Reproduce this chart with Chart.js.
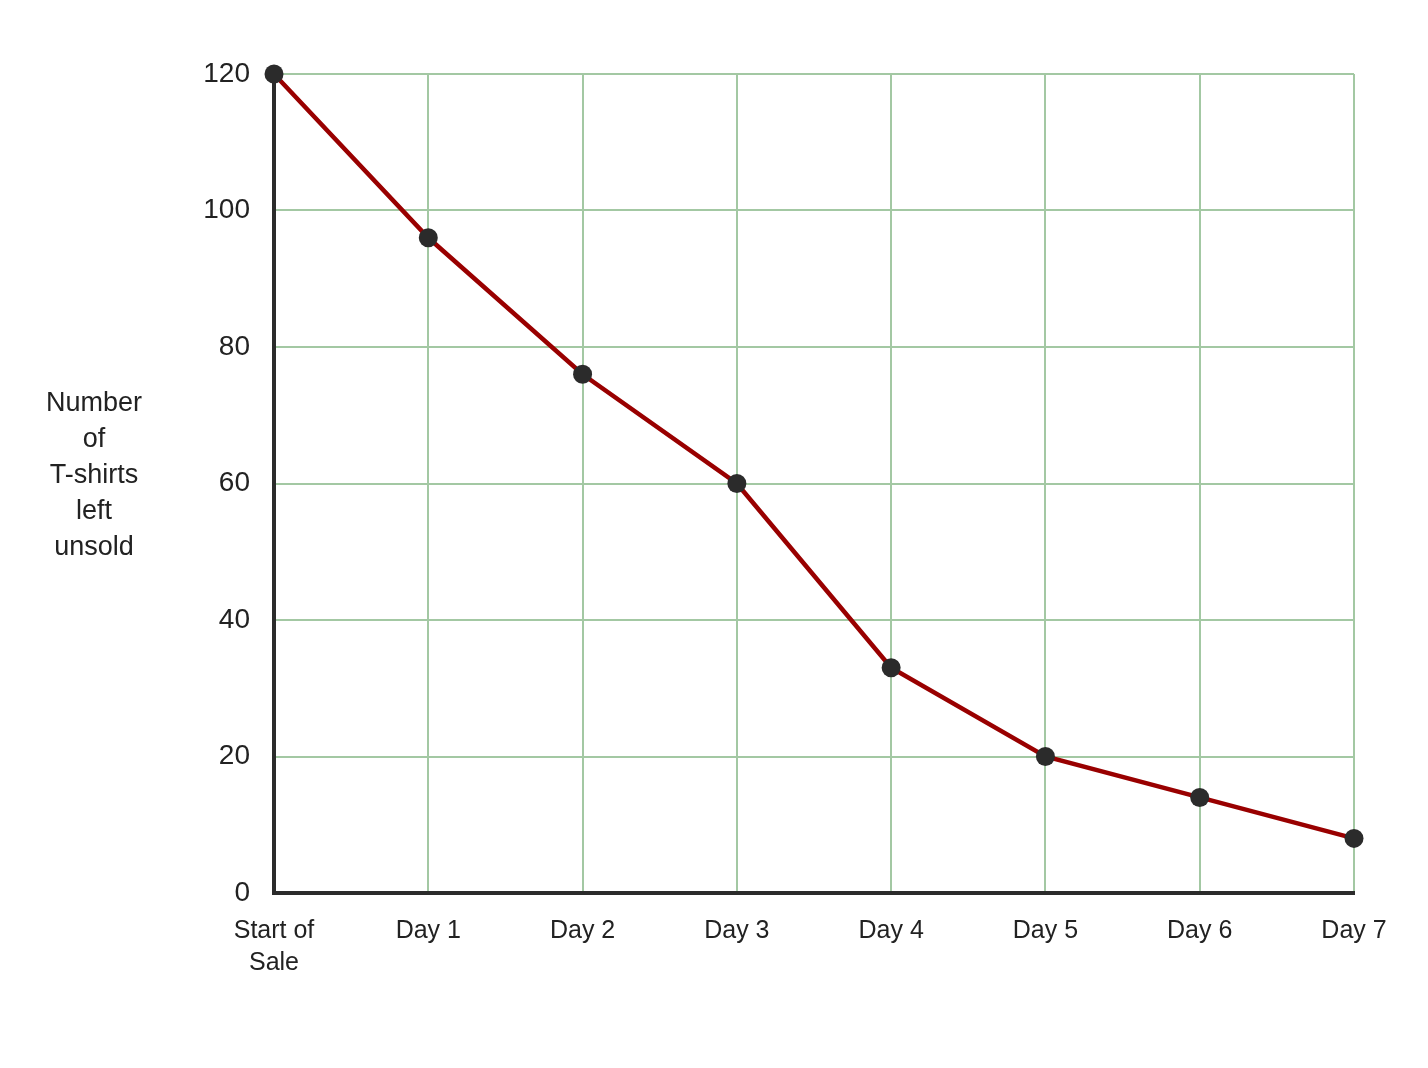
<!DOCTYPE html>
<html>
<head>
<meta charset="utf-8">
<script src="https://cdn.jsdelivr.net/npm/chart.js@4/dist/chart.umd.min.js"></script>
<style>
  html, body { margin: 0; padding: 0; background: #fff; }
  #wrap { width: 1428px; height: 1068px; }
</style>
</head>
<body>
<div id="wrap"><canvas id="my-chart" width="1428" height="1068"></canvas></div>
<script>
const dayLabels = [['Start of', 'Sale'], 'Day 1', 'Day 2', 'Day 3', 'Day 4', 'Day 5', 'Day 6', 'Day 7'];
const shirtsLeft = [120, 96, 76, 60, 33, 20, 14, 8];
const yTitleLines = ['Number', 'of', 'T-shirts', 'left', 'unsold'];

// draws the horizontal multi-line y title left of the chart
const yTitlePlugin = {
  id: 'yTitle',
  afterDraw(chart) {
    const { ctx, chartArea } = chart;
    const lineH = 36;
    const midY = (chartArea.top + chartArea.bottom) / 2 - 8;
    const startY = midY - (yTitleLines.length - 1) * lineH / 2;
    ctx.save();
    ctx.font = '27px "Liberation Sans", Arial, sans-serif';
    ctx.fillStyle = '#222';
    ctx.textAlign = 'center';
    ctx.textBaseline = 'middle';
    yTitleLines.forEach((line, i) => ctx.fillText(line, 94, startY + i * lineH));
    ctx.restore();
  }
};

const ctx = document.getElementById('my-chart').getContext('2d');
new Chart(ctx, {
  type: 'line',
  data: {
    labels: dayLabels,
    datasets: [{
      data: shirtsLeft,
      borderColor: '#990000',
      borderWidth: 4.5,
      pointRadius: 9.5,
      pointHoverRadius: 9.5,
      pointBackgroundColor: '#2b2b2b',
      pointBorderColor: '#2b2b2b',
      pointBorderWidth: 0,
      tension: 0,
      clip: false
    }]
  },
  options: {
    responsive: false,
    animation: false,
    events: [],
    layout: { padding: { left: 0, right: 74, top: 74, bottom: 75 } },
    plugins: { legend: { display: false }, tooltip: { enabled: false } },
    scales: {
      x: {
        offset: false,
        grid: { color: '#a3c8a3', lineWidth: 2, drawTicks: false },
        border: { color: '#2b2b2b', width: 4 },
        ticks: {
          color: '#222',
          font: { size: 25, lineHeight: 1.28, family: '"Liberation Sans", Arial, sans-serif' },
          padding: 22,
          maxRotation: 0,
          autoSkip: false
        },
        afterFit(s) { s.height = 100; }
      },
      y: {
        min: 0,
        max: 120,
        grid: { color: '#a3c8a3', lineWidth: 2, drawTicks: false },
        border: { color: '#2b2b2b', width: 4 },
        ticks: {
          stepSize: 20,
          color: '#222',
          font: { size: 28, family: '"Liberation Sans", Arial, sans-serif' },
          padding: 24
        },
        afterFit(s) { s.width = 274; }
      }
    }
  },
  plugins: [yTitlePlugin]
});
</script>
</body>
</html>
